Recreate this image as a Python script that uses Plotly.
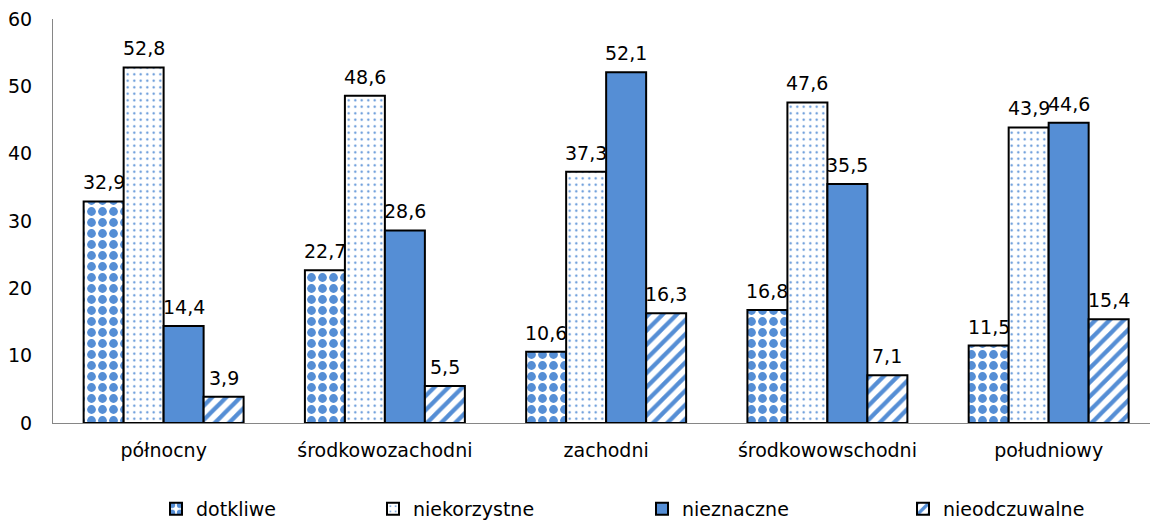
import plotly.graph_objects as go

categories = ["północny", "środkowozachodni", "zachodni", "środkowowschodni", "południowy"]
series_names = ["dotkliwe", "niekorzystne", "nieznaczne", "nieodczuwalne"]
dotkliwe = [32.9, 22.7, 10.6, 16.8, 11.5]
niekorzystne = [52.8, 48.6, 37.3, 47.6, 43.9]
nieznaczne = [14.4, 28.6, 52.1, 35.5, 44.6]
nieodczuwalne = [3.9, 5.5, 16.3, 7.1, 15.4]
y_ticks = [0, 10, 20, 30, 40, 50, 60]

BLUE = "#558ED5"
FONT = "DejaVu Sans"
W, H = 1155, 523
BARGAP = 0.277

values = [dotkliwe, niekorzystne, nieznaczne, nieodczuwalne]
patterns = [
    dict(shape=".", fgcolor=BLUE, bgcolor="white", size=11, solidity=0.5, fgopacity=1, fillmode="overlay"),
    dict(shape=".", fgcolor=BLUE, bgcolor="white", size=6.5, solidity=0.09, fgopacity=1, fillmode="overlay"),
    dict(shape=""),
    dict(shape="/", fgcolor=BLUE, bgcolor="white", size=10, solidity=0.42, fgopacity=1, fillmode="overlay"),
]
legend_text_x = [196, 413, 682, 943]   # pixel position of legend text starts
legend_ids = ["legend", "legend2", "legend3", "legend4"]

fig = go.Figure()
nser = len(series_names)
bar_w = (1 - BARGAP) / nser
for k, (name, vals, pat, lid) in enumerate(zip(series_names, values, patterns, legend_ids)):
    bar_color = BLUE if pat["shape"] == "" else "white"
    fig.add_trace(go.Bar(
        name=name, x=categories, y=vals, legend=lid,
        marker=dict(color=bar_color, line=dict(color="black", width=2), pattern=pat),
        hoverinfo="skip",
    ))
    off = (k - (nser - 1) / 2) * bar_w
    for i, v in enumerate(vals):
        fig.add_annotation(
            x=i + off, y=v, xref="x", yref="y", text=f"{v:.1f}".replace(".", ","),
            showarrow=False, yanchor="bottom", xanchor="center", yshift=6,
            font=dict(size=19, color="black", family=FONT),
        )

legend_common = dict(orientation="h", xref="container", yref="container", xanchor="left",
                     yanchor="middle", y=1 - 509 / H, font=dict(size=19, family=FONT),
                     itemwidth=30, bgcolor="rgba(0,0,0,0)")
layout_legends = {}
for lid, tx in zip(legend_ids, legend_text_x):
    layout_legends[lid] = dict(legend_common, x=(tx - 40) / W)

fig.update_layout(
    width=W, height=H,
    barmode="group", bargap=BARGAP, bargroupgap=0,
    plot_bgcolor="white", paper_bgcolor="white",
    margin=dict(l=53, r=5, t=19, b=100, autoexpand=False),
    font=dict(family=FONT, size=19, color="black"),
    xaxis=dict(range=[-0.5, 4.458], showline=True, linecolor="#868686", linewidth=1, ticks="",
               showgrid=False, tickfont=dict(size=19), ticklabelstandoff=10),
    yaxis=dict(range=[0, 60], tickvals=y_ticks, showline=True, linecolor="#868686", linewidth=1,
               showgrid=False, zeroline=False, ticks="", tickfont=dict(size=19), ticklabelstandoff=16),
    showlegend=True,
    **layout_legends,
)

fig.write_html("out.html", config={"displayModeBar": False},
               post_script="document.body.style.margin='0';")
